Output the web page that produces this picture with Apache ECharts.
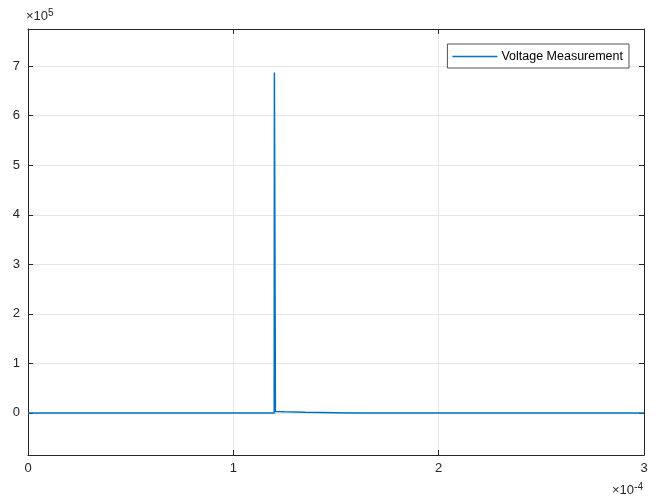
<!DOCTYPE html>
<html>
<head>
<meta charset="utf-8">
<script src="https://cdn.jsdelivr.net/npm/echarts@6/dist/echarts.min.js"></script>
<style>html,body{margin:0;padding:0;background:#fff}#c{width:660px;height:502px}</style>
</head>
<body>
<div id="c"></div>
<script>
// time (s) and voltage (V)
var timeValues = [0, 0.5e-4, 1.0e-4, 1.199e-4, 1.2e-4, 1.205e-4, 1.25e-4, 1.35e-4, 1.5e-4, 1.6e-4, 2.0e-4, 2.5e-4, 3.0e-4];
var voltageValues = [0, 0, 0, 0, 687000, 3000, 2200, 1200, 500, 0, 0, 0, 0];
var seriesName = 'Voltage Measurement';
var xTicks = [0, 1e-4, 2e-4, 3e-4];
var yTicks = [0, 1e5, 2e5, 3e5, 4e5, 5e5, 6e5, 7e5];

var axisColor = '#262626';
var gridColor = '#e6e6e6';
var fontFam = '"Liberation Sans", Arial, sans-serif';

var data = timeValues.map(function (t, i) { return [t, voltageValues[i]]; });

var chart = echarts.init(document.getElementById('c'), null, {renderer: 'canvas'});
var yMin = -0.85e5, yMax = 7.75e5;
chart.setOption({
  animation: false,
  backgroundColor: '#fff',
  grid: {left: 28, right: 16, top: 29, bottom: 47, containLabel: false},
  legend: {
    data: [seriesName],
    right: 31, top: 44,
    orient: 'vertical',
    backgroundColor: '#fff',
    borderColor: axisColor, borderWidth: 0.8,
    padding: [6, 6, 5, 5],
    itemWidth: 45, itemHeight: 1.5, icon: 'rect', itemGap: 4,
    textStyle: {fontFamily: fontFam, fontSize: 12.5, color: '#000', padding: [0, 0, 0, -1]}
  },
  xAxis: [{
    type: 'value', min: 0, max: 3e-4,
    axisLine: {show: true, onZero: false, lineStyle: {color: axisColor, width: 1}},
    axisTick: {show: true, inside: true, length: 5, customValues: xTicks, lineStyle: {color: axisColor}},
    axisLabel: {customValues: xTicks, color: axisColor, fontFamily: fontFam, fontSize: 13, margin: 7,
      formatter: function (v) { return String(Math.round(v / 1e-4)); }},
    splitLine: {show: true, lineStyle: {color: gridColor, width: 1}}
  }, {
    type: 'value', min: 0, max: 3e-4, position: 'top',
    axisLine: {show: true, onZero: false, lineStyle: {color: axisColor, width: 1}},
    axisTick: {show: true, inside: true, length: 5, customValues: xTicks, lineStyle: {color: axisColor}},
    axisLabel: {show: false},
    splitLine: {show: false}
  }],
  yAxis: [{
    type: 'value', min: yMin, max: yMax,
    axisLine: {show: true, onZero: false, lineStyle: {color: axisColor, width: 1}},
    axisTick: {show: true, inside: true, length: 5, customValues: yTicks, lineStyle: {color: axisColor}},
    axisLabel: {customValues: yTicks, color: axisColor, fontFamily: fontFam, fontSize: 13, margin: 8,
      formatter: function (v) { return String(Math.round(v / 1e5)); }},
    splitLine: {show: true, lineStyle: {color: gridColor, width: 1}}
  }, {
    type: 'value', min: yMin, max: yMax, position: 'right',
    axisLine: {show: true, onZero: false, lineStyle: {color: axisColor, width: 1}},
    axisTick: {show: true, inside: true, length: 5, customValues: yTicks, lineStyle: {color: axisColor}},
    axisLabel: {show: false},
    splitLine: {show: false}
  }],
  graphic: [{
    type: 'text', left: 26, top: 8,
    style: {
      text: '{a|×10}{s|5}',
      rich: {
        a: {fontFamily: fontFam, fontSize: 13, fill: axisColor},
        s: {fontFamily: fontFam, fontSize: 10, fill: axisColor, verticalAlign: 'top', padding: [0, 0, 7, 0]}
      }
    }
  }, {
    type: 'text', left: 612, top: 482,
    style: {
      text: '{a|×10}{s|-4}',
      rich: {
        a: {fontFamily: fontFam, fontSize: 13, fill: axisColor},
        s: {fontFamily: fontFam, fontSize: 10, fill: axisColor, verticalAlign: 'top', padding: [0, 0, 7, 0]}
      }
    }
  }],
  series: [{
    name: seriesName,
    type: 'line',
    data: data,
    showSymbol: false,
    symbol: 'none',
    xAxisIndex: 0, yAxisIndex: 0,
    lineStyle: {color: '#0072BD', width: 1.5},
    itemStyle: {color: '#0072BD'}
  }]
});
</script>
</body>
</html>
